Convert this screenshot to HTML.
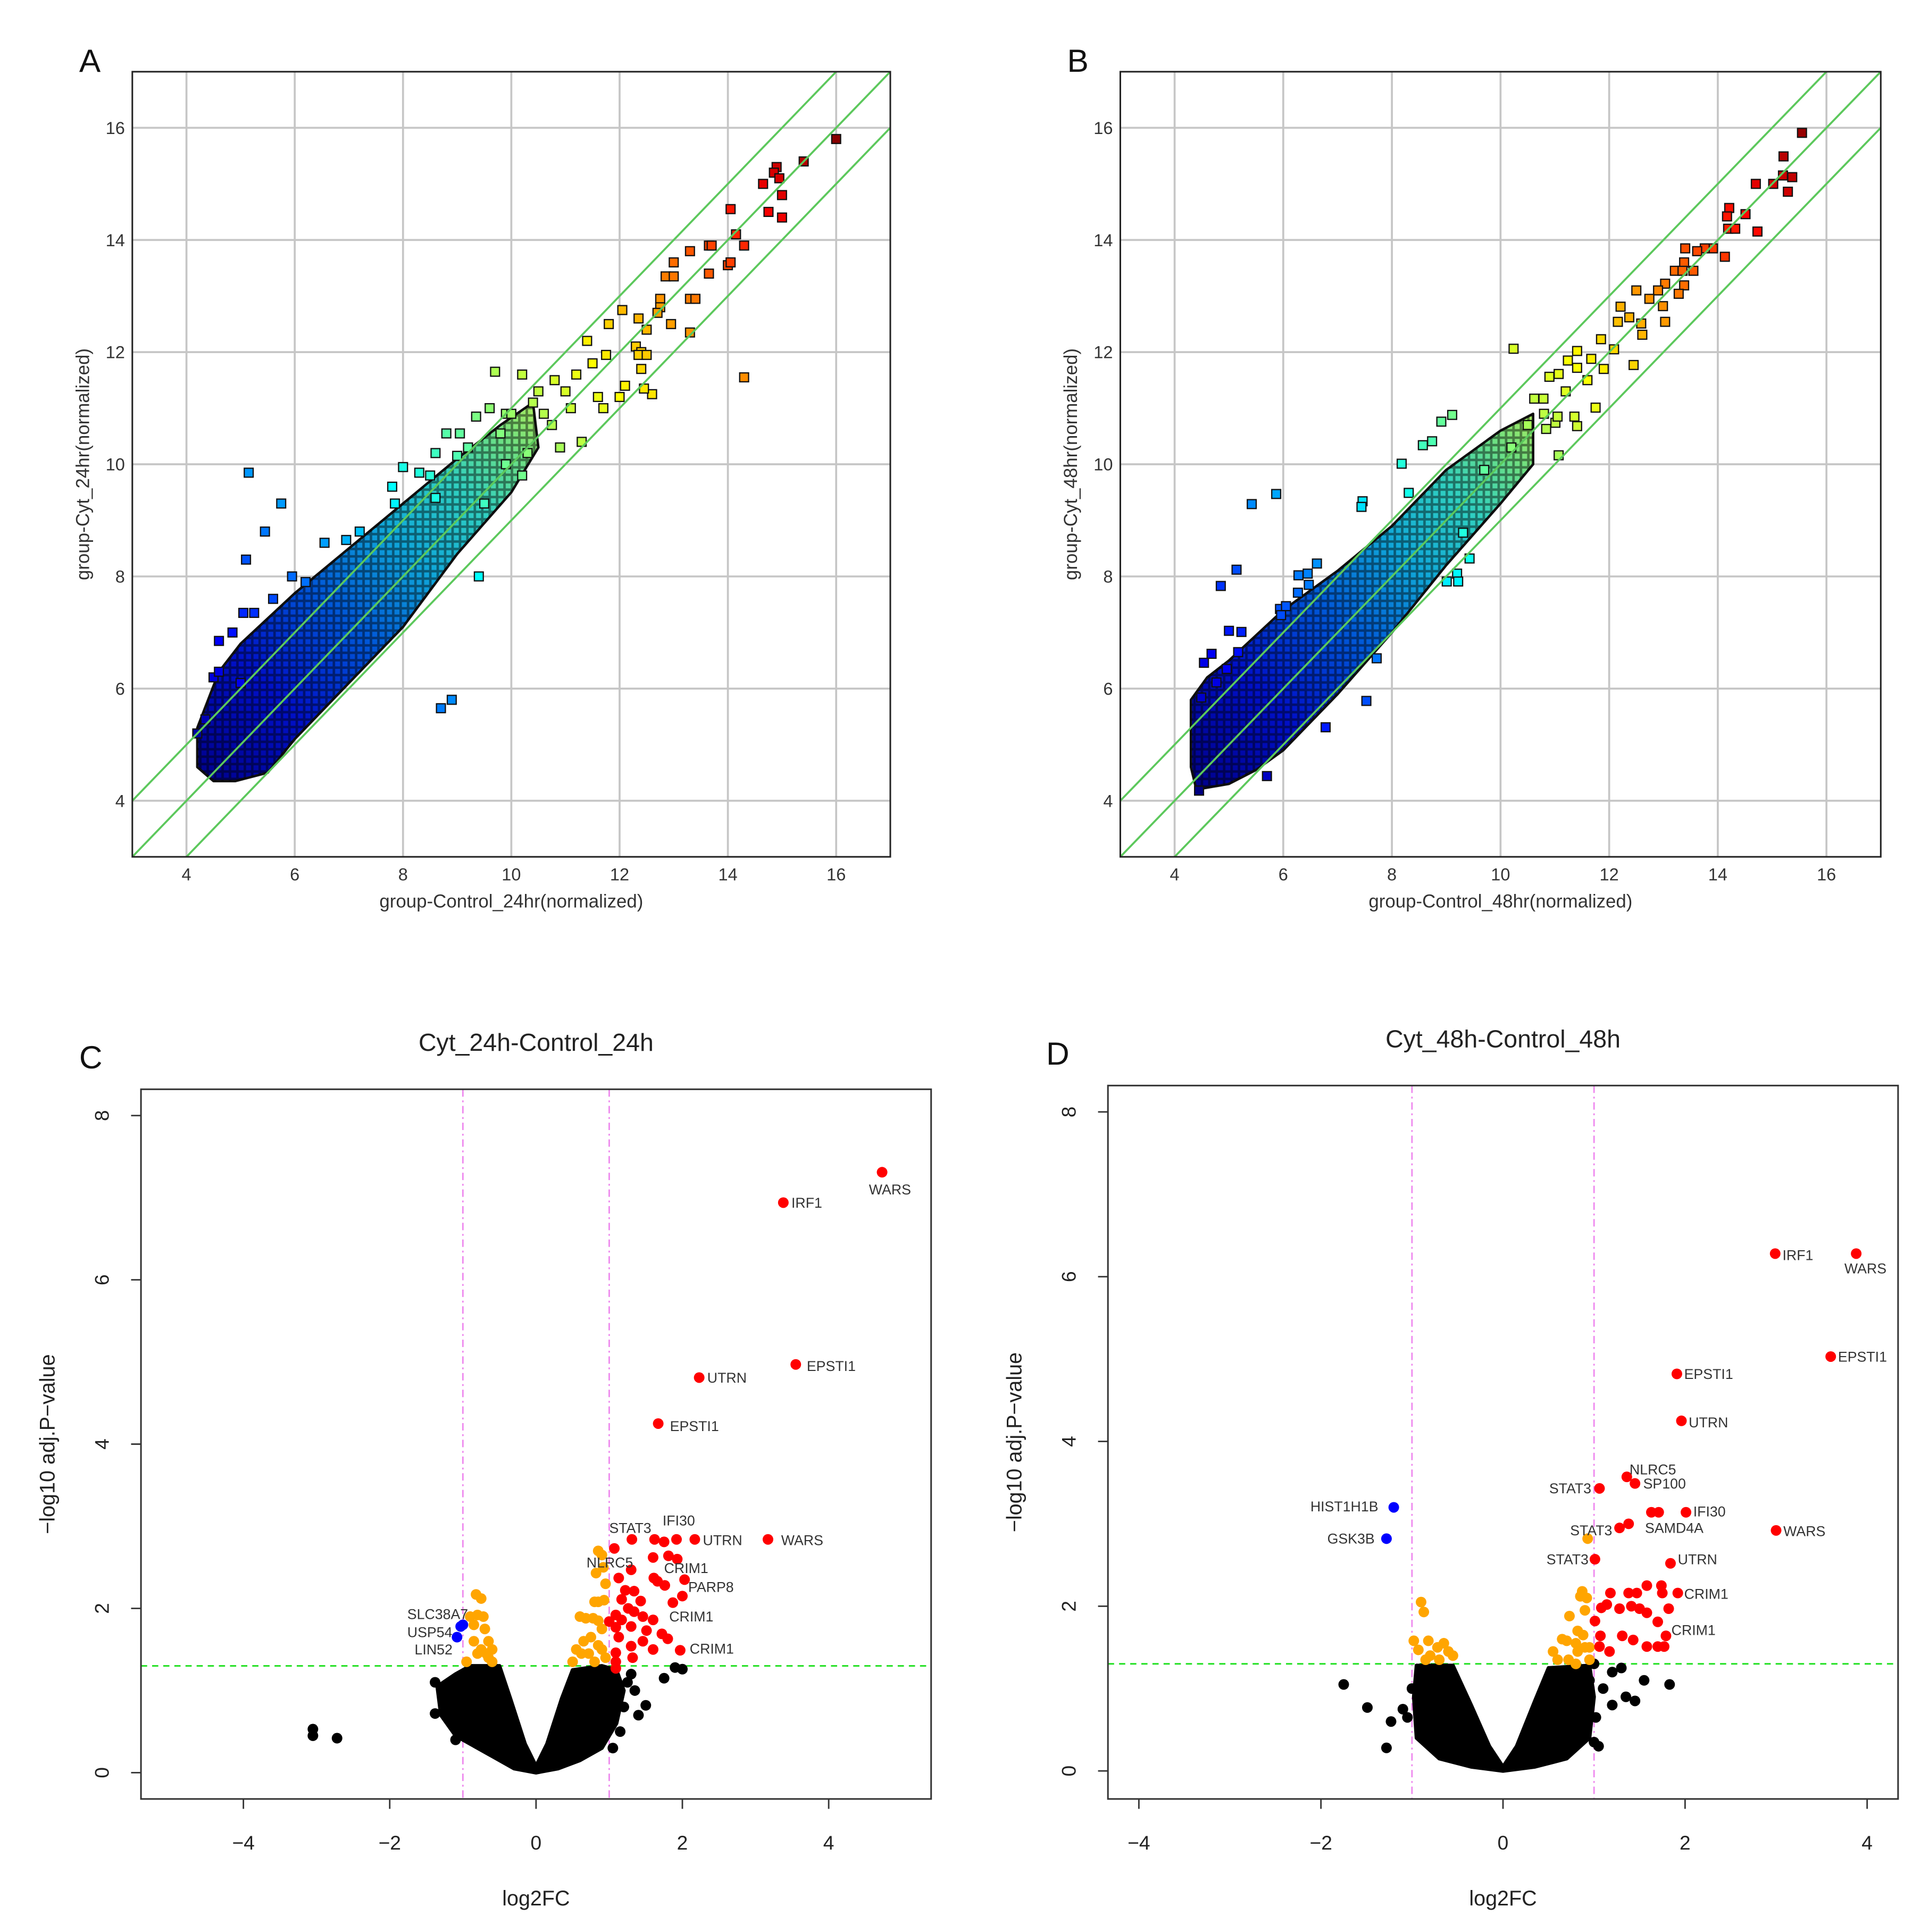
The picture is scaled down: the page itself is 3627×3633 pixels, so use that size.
<!DOCTYPE html>
<html><head><meta charset="utf-8">
<style>
html,body{margin:0;padding:0;background:#fff;}
svg{display:block;}
text{font-family:"Liberation Sans",sans-serif;}
</style></head>
<body>
<svg id="fig" xmlns="http://www.w3.org/2000/svg" width="3627" height="3633" viewBox="0 0 1560 1562.6">
<defs>
<pattern id="sqpat" patternUnits="userSpaceOnUse" width="6" height="6">
<rect x="0.5" y="0.5" width="5" height="5" fill="none" stroke="#000" stroke-opacity="0.45" stroke-width="1"/>
</pattern>
</defs>
<rect x="0" y="0" width="1560" height="1562.6" fill="#fff"/>
</svg>
<script>
// ===== Panel A data (control, cyt) =====
const aCloudUpper = [[4.2,4.6],[4.2,5.3],[4.6,6.3],[5,6.8],[6,7.7],[7,8.5],[8,9.3],[9,10.1],[9.8,10.7],[10.4,11.1]];
const aCloudLower = [[10.5,10.3],[10,9.5],[9,8.4],[8,7.1],[7,6.1],[6,5.1],[5.5,4.5],[4.9,4.35],[4.5,4.35]];
const aX = [16.0,15.4,14.9,14.85,14.95,14.65,15.0,14.75,15.0,14.05,14.15,14.3,14.0,14.05,13.65,13.7,13.65,13.3,13.0,12.85,13.0,13.3,13.4,12.75,12.75,12.7,12.95,13.3,12.05,12.35,11.8,12.5,12.3,12.4,12.35,12.5,12.4,12.1,12.0,12.6,12.45,11.4,11.75,14.3,9.7,10.2,9.6,9.35,9.8,8.8,9.05,8.6,9.0,8.0,8.3,8.5,7.8,7.85,5.15,5.75,5.45,5.1,6.55,6.95,5.95,8.7,8.9,9.4,11.0,10.5,11.3,10.75,11.7,10.2,4.6,5.05,5.25,4.85,4.5,4.6,5.0,4.2,4.35,10.8,11.2,10.4,11.5,9.9,9.2,10.6,11.1,10.9,11.6,9.5,10.0,7.2,6.2,5.6,8.6,9.9,10.3];
const aY = [15.8,15.4,15.3,15.2,15.1,15.0,14.8,14.5,14.4,14.55,14.1,13.9,13.55,13.6,13.9,13.9,13.4,13.8,13.6,13.35,13.35,12.95,12.95,12.95,12.8,12.7,12.5,12.35,12.75,12.6,12.5,12.4,12.1,12.0,11.95,11.95,11.7,11.4,11.2,11.25,11.35,12.2,11.95,11.55,11.65,11.6,11.0,10.85,10.55,10.55,10.55,10.2,10.15,9.95,9.85,9.8,9.6,9.3,9.85,9.3,8.8,8.3,8.6,8.65,8.0,5.65,5.8,8.0,11.3,11.3,10.4,10.7,11.0,9.8,6.85,7.35,7.35,7.0,6.2,6.3,6.1,5.2,5.45,11.5,11.6,11.1,11.8,10.9,10.3,10.9,11.0,10.3,11.2,9.3,10.9,8.8,7.9,7.6,9.4,10.0,10.2];
// ===== Panel B data =====
const bCloudUpper = [[4.3,4.6],[4.3,5.8],[4.6,6.2],[5,6.5],[6,7.4],[7,8.1],[8,8.9],[9,9.9],[10,10.6],[10.6,10.9]];
const bCloudLower = [[10.6,10.0],[10,9.3],[9,8.2],[8,7.0],[7,5.9],[6,4.9],[5.5,4.55],[5,4.3],[4.4,4.2]];
const bX = [15.55,15.21,15.02,15.2,15.37,15.29,14.7,14.21,14.17,14.51,14.73,14.19,14.32,14.13,13.91,13.76,13.62,13.4,13.38,13.55,13.21,13.35,13.38,13.28,13.03,12.9,12.74,12.5,12.99,12.21,13.03,12.16,12.37,12.59,12.61,12.45,11.85,12.09,11.67,11.41,11.41,11.24,11.07,10.9,10.79,10.62,11.75,11.36,11.01,10.84,11.41,11.05,11.07,10.24,9.11,8.91,8.74,8.57,8.18,8.31,7.46,7.44,5.87,5.42,4.85,5.14,6.28,6.45,6.62,6.47,6.27,5.94,6.05,5.96,4.54,4.68,4.96,5.23,5.0,5.17,4.77,4.49,6.78,7.53,5.7,4.45,9.2,9.43,9.01,9.22,9.31,7.72,10.5,10.8,11.2,11.6,11.9,9.7,10.2];
const bY = [15.91,15.49,15.0,15.15,15.12,14.86,15.0,14.57,14.42,14.46,14.15,14.2,14.2,13.7,13.85,13.85,13.8,13.85,13.6,13.45,13.45,13.45,13.19,13.04,13.22,13.1,12.95,13.1,12.82,12.81,12.54,12.54,12.62,12.51,12.31,11.77,12.23,12.05,11.88,12.02,11.72,11.85,11.61,11.56,11.17,11.17,11.01,10.85,10.74,10.63,10.68,10.85,10.16,12.06,10.88,10.76,10.41,10.34,10.01,9.49,9.34,9.24,9.47,9.29,7.83,8.12,8.02,8.05,8.23,7.85,7.71,7.42,7.47,7.31,6.46,6.62,6.35,7.01,7.03,6.65,6.11,5.84,5.31,5.78,4.44,4.18,8.05,8.32,7.91,7.91,8.78,6.54,10.7,10.9,11.3,11.5,11.7,9.9,10.3];
// ===== Panel C data (log2FC, -log10 adj.P) =====
const cVee = [[0,0],[-0.3,0.05],[-0.6,0.2],[-0.9,0.35],[-1.1,0.45],[-1.3,0.7],[-1.35,1.05],[-1.1,1.2],[-0.9,1.3],[-0.5,1.3],[-0.35,0.9],[-0.15,0.35],[0,0.08],[0.15,0.35],[0.35,0.9],[0.5,1.25],[0.9,1.3],[1.1,1.25],[1.2,1.0],[1.1,0.6],[0.9,0.3],[0.6,0.15],[0.3,0.05]];
const cBlackX = [-3.05,-3.05,-2.72,1.9,2.0,1.75,1.5,1.35,1.25,1.2,1.15,1.4,1.3,-1.38,-1.38,-1.2,-1.1,1.1,1.05];
const cBlackY = [0.53,0.45,0.42,1.28,1.26,1.15,0.82,1.0,1.1,0.8,0.5,0.7,1.2,0.72,1.1,0.8,0.4,0.9,0.3];
const cOrangeX = [-0.82,-0.75,-0.9,-0.8,-0.72,-0.65,-0.6,-0.68,-0.75,-0.8,-0.85,-0.95,-0.6,-0.7,-0.85,-0.65,0.85,0.9,0.92,0.82,0.95,0.93,0.85,0.8,0.78,0.6,0.68,0.85,0.9,0.75,0.65,0.55,0.62,0.72,0.8,0.5,0.9,0.95,0.85];
const cOrangeY = [2.17,2.12,1.9,1.92,1.9,1.6,1.5,1.45,1.5,1.45,1.6,1.35,1.35,1.75,1.8,1.4,2.7,2.65,2.5,2.43,2.3,2.1,2.08,2.08,1.88,1.9,1.88,1.85,1.75,1.65,1.6,1.5,1.45,1.45,1.35,1.35,1.5,1.4,1.55];
const cRedX = [4.73,3.38,3.55,2.23,1.67,3.17,2.17,1.92,1.75,1.62,1.31,1.07,1.6,1.81,1.93,1.3,1.13,1.61,1.66,1.76,2.03,1.22,1.34,1.17,1.43,1.87,2.0,1.26,1.34,1.09,1.0,1.17,1.46,1.6,1.09,1.3,1.51,1.72,1.8,1.46,1.13,1.3,1.6,1.97,1.09,1.32,1.09,1.09];
const cRedY = [7.31,6.94,4.97,4.81,4.25,2.84,2.84,2.84,2.81,2.84,2.84,2.73,2.62,2.64,2.6,2.47,2.37,2.37,2.33,2.28,2.35,2.22,2.21,2.11,2.09,2.07,2.15,2.0,1.96,1.92,1.84,1.86,1.9,1.86,1.77,1.78,1.73,1.69,1.63,1.6,1.65,1.54,1.5,1.49,1.46,1.4,1.35,1.27];
const cBlueX = [-1.03,-1.0,-1.08];
const cBlueY = [1.78,1.8,1.65];
const cLabels = ["WARS","IRF1","EPSTI1","UTRN","EPSTI1","WARS","UTRN","STAT3","IFI30","NLRC5","CRIM1","PARP8","CRIM1","CRIM1","SLC38A7","USP54","LIN52"];
const cLabX = [4.55,3.49,3.7,2.34,1.83,3.35,2.28,1.0,1.73,0.69,1.75,2.08,1.82,2.1,-1.76,-1.76,-1.66];
const cLabY = [7.1,6.94,4.95,4.81,4.22,2.83,2.83,2.98,3.07,2.56,2.49,2.26,1.9,1.51,1.93,1.71,1.5];
// ===== Panel D data =====
const dVee = [[0,0],[-0.35,0.05],[-0.7,0.15],[-0.95,0.4],[-0.98,0.9],[-0.95,1.28],[-0.55,1.28],[-0.35,0.8],[-0.15,0.3],[0,0.05],[0.15,0.3],[0.35,0.85],[0.5,1.25],[0.95,1.28],[1.0,0.9],[0.95,0.4],[0.7,0.15],[0.35,0.05]];
const dBlackX = [-1.75,-1.49,-1.28,-1.23,-1.1,-1.05,1.83,1.55,1.45,1.35,1.2,1.02,1.05,1.0,1.1,1.2,1.0,0.95,1.3,-1.0,-0.9];
const dBlackY = [1.05,0.77,0.28,0.6,0.75,0.65,1.05,1.1,0.85,0.9,0.8,0.65,0.3,0.35,1.0,1.2,1.3,1.1,1.25,1.0,0.5];
const dOrangeX = [0.93,-0.9,-0.87,-0.98,-0.93,-0.82,-0.8,-0.72,-0.65,-0.6,-0.55,-0.85,-0.7,0.87,0.92,0.85,0.9,0.73,0.65,0.7,0.82,0.88,0.8,0.9,0.95,0.82,0.55,0.6,0.72,0.8,0.95];
const dOrangeY = [2.82,2.05,1.93,1.58,1.47,1.58,1.4,1.5,1.55,1.45,1.4,1.35,1.35,2.18,2.1,2.12,1.95,1.88,1.6,1.58,1.7,1.65,1.55,1.5,1.5,1.45,1.45,1.35,1.35,1.3,1.35];
const dRedX = [2.99,3.88,3.6,1.91,1.96,1.36,1.45,1.06,1.63,1.71,2.01,1.38,1.28,3.0,1.01,1.84,1.58,1.74,1.18,1.38,1.47,1.75,1.92,1.08,1.14,1.28,1.41,1.5,1.58,1.82,1.01,1.7,1.07,1.31,1.43,1.79,1.06,1.17,1.58,1.7,1.77];
const dRedY = [6.28,6.28,5.03,4.82,4.25,3.57,3.49,3.43,3.14,3.14,3.14,3.0,2.95,2.92,2.57,2.52,2.25,2.25,2.16,2.16,2.16,2.16,2.16,1.98,2.02,1.97,2.0,1.97,1.92,1.97,1.82,1.81,1.64,1.64,1.59,1.64,1.51,1.45,1.51,1.51,1.51];
const dBlueX = [-1.2,-1.28];
const dBlueY = [3.2,2.82];
const dLabels = ["IRF1","WARS","EPSTI1","EPSTI1","UTRN","NLRC5","SP100","STAT3","IFI30","SAMD4A","STAT3","WARS","STAT3","UTRN","CRIM1","CRIM1","HIST1H1B","GSK3B"];
const dLabX = [3.07,3.75,3.68,1.99,2.04,1.39,1.54,0.97,2.09,1.56,1.2,3.08,0.94,1.92,1.99,1.85,-1.37,-1.41];
const dLabY = [6.26,6.1,5.03,4.82,4.23,3.66,3.49,3.43,3.15,2.95,2.92,2.91,2.57,2.57,2.15,1.71,3.21,2.82];
const dLabAnchor = ["start","start","start","start","start","start","start","end","start","start","end","start","end","start","start","start","end","end"];

// ===== drawing =====
const NS = "http://www.w3.org/2000/svg";
const svg = document.getElementById('fig');
function mk(tag, attrs, parent){
  const e = document.createElementNS(NS, tag);
  for (const k in attrs) e.setAttribute(k, attrs[k]);
  (parent||svg).appendChild(e);
  return e;
}
function scale(d0,d1,p0,p1){ return v => p0 + (v-d0)/(d1-d0)*(p1-p0); }
function jet(t){
  t=Math.max(0,Math.min(1,t));
  const r=Math.max(0,Math.min(1,1.5-Math.abs(4*t-3)));
  const g=Math.max(0,Math.min(1,1.5-Math.abs(4*t-2)));
  const b=Math.max(0,Math.min(1,1.5-Math.abs(4*t-1)));
  return `rgb(${Math.round(r*255)},${Math.round(g*255)},${Math.round(b*255)})`;
}

function scatterPanel(id, L,R,T,B, upper, lower, xs, ys, letter, xtitle, ytitle){
  const g = mk('g',{});
  
  
  const sx = scale(3,17,L,R), sy = scale(3,17,B,T);
  const clipId = id+'clip';
  const cp = mk('clipPath',{id:clipId},g);
  mk('rect',{x:L,y:T,width:R-L,height:B-T},cp);
  const ticks=[4,6,8,10,12,14,16];
  const grid = mk('g',{},g);
  
  
  ticks.forEach(v=>{
    mk('line',{x1:sx(v),x2:sx(v),y1:T,y2:B,stroke:'#c6c6c6','stroke-width':1.6},grid);
    mk('line',{x1:L,x2:R,y1:sy(v),y2:sy(v),stroke:'#c6c6c6','stroke-width':1.6},grid);
  });
  const gid = id+'grad';
  const lg = mk('linearGradient',{id:gid,gradientUnits:'userSpaceOnUse',x1:sx(4.3),y1:sy(4.3),x2:sx(11),y2:sy(11)},g);
  [[0,'#00008a'],[0.22,'#0010c8'],[0.42,'#0058d8'],[0.6,'#10a8d8'],[0.75,'#30d0c0'],[0.88,'#70e080'],[1,'#c0f050']].forEach(s=>mk('stop',{offset:s[0],'stop-color':s[1]},lg));
  const pts = upper.concat(lower).map(p=>sx(p[0])+','+sy(p[1])).join(' ');
  const cloud = mk('polygon',{points:pts,fill:'url(#'+gid+')',stroke:'#111','stroke-width':2,'stroke-linejoin':'round'},g);
  
  
  mk('polygon',{points:pts,fill:'url(#sqpat)',stroke:'none'},g);
  const pg = mk('g',{'clip-path':'url(#'+clipId+')'},g);
  xs.forEach((x,i)=>{
    const y=ys[i];
    const r = mk('rect',{x:sx(x)-3.6,y:sy(y)-3.6,width:7.2,height:7.2,fill:jet(((x+y)/2-4.3)/11.7),stroke:'#111','stroke-width':1},pg);
    
    
  });
  [0,1,-1].forEach(off=>{
    const ln = mk('line',{x1:sx(3),y1:sy(3+off),x2:sx(17),y2:sy(17+off),stroke:'#5cc85c','stroke-width':1.6,'clip-path':'url(#'+clipId+')'},g);
    
    
  });
  const fr = mk('rect',{x:L,y:T,width:R-L,height:B-T,fill:'none',stroke:'#222','stroke-width':1.3},g);
  
  
  ticks.forEach(v=>{
    const t1 = mk('text',{x:sx(v),y:B+19,'font-size':14,'text-anchor':'middle',fill:'#333'},g);
    t1.textContent=v;
    
    
    const t2 = mk('text',{x:L-6,y:sy(v)+5,'font-size':14,'text-anchor':'end',fill:'#333'},g);
    t2.textContent=v;
    
    
  });
  const xt = mk('text',{x:(L+R)/2,y:B+41,'font-size':15,'text-anchor':'middle',fill:'#333'},g);
  xt.textContent=xtitle;
  
  
  const yt = mk('text',{x:0,y:0,'font-size':15,'text-anchor':'middle',fill:'#333',transform:`translate(${L-35},${(T+B)/2}) rotate(-90)`},g);
  yt.textContent=ytitle;
  
  
  const lt = mk('text',{x:L-43,y:T,'font-size':26,fill:'#111'},g);
  lt.textContent=letter;
  
  
}

function volcanoPanel(id,L,R,T,B,xmin,xmax,ymin,ymax,xticks,vee,bx,by,ox,oy,rx,ry,blx,bly,labs,lx,ly,anch,letter,title){
  const g = mk('g',{});
  
  
  const sx = scale(xmin,xmax,L,R), sy=scale(ymin,ymax,B,T);
  const clipId=id+'clip';
  const cp = mk('clipPath',{id:clipId},g);
  mk('rect',{x:L,y:T,width:R-L,height:B-T},cp);
  const inner = mk('g',{'clip-path':'url(#'+clipId+')'},g);
  [-1,1].forEach(v=>{
    const l = mk('line',{x1:sx(v),x2:sx(v),y1:T,y2:B,stroke:'#ee88ee','stroke-width':1.2,'stroke-dasharray':'6 3 1.5 3'},inner);
    
    
  });
  const h = mk('line',{x1:L,x2:R,y1:sy(1.3),y2:sy(1.3),stroke:'#22e022','stroke-width':1.3,'stroke-dasharray':'5 4'},inner);
  
  
  const vp = mk('polygon',{points:vee.map(p=>sx(p[0])+','+sy(p[1])).join(' '),fill:'#000',stroke:'#000','stroke-width':3,'stroke-linejoin':'round'},inner);
  
  
  function dots(xs,ys,col,nm){
    xs.forEach((x,i)=>{
      const c = mk('circle',{cx:sx(x),cy:sy(ys[i]),r:4.3,fill:col},inner);
      
      
    });
  }
  dots(bx,by,'#000',id+'-nonsig-point');
  dots(ox,oy,'#ffa500',id+'-fc-point');
  dots(rx,ry,'#ff0000',id+'-up-point');
  dots(blx,bly,'#0000ff',id+'-down-point');
  labs.forEach((s,i)=>{
    const t = mk('text',{x:sx(lx[i]),y:sy(ly[i])+4,'font-size':11.5,'text-anchor':anch?anch[i]:'start',fill:'#333'},g);
    t.textContent=s;
    
    
  });
  const fr = mk('rect',{x:L,y:T,width:R-L,height:B-T,fill:'none',stroke:'#333','stroke-width':1.3},g);
  
  
  xticks.forEach(v=>{
    mk('line',{x1:sx(v),x2:sx(v),y1:B,y2:B+8,stroke:'#333','stroke-width':1.2},g);
    const t = mk('text',{x:sx(v),y:B+41,'font-size':16,'text-anchor':'middle',fill:'#222'},g);
    t.textContent = v<0 ? '\u2212'+(-v) : v;
    
    
  });
  [0,2,4,6,8].forEach(v=>{
    mk('line',{x1:L-8,x2:L,y1:sy(v),y2:sy(v),stroke:'#333','stroke-width':1.2},g);
    const t = mk('text',{x:0,y:0,'font-size':16,'text-anchor':'middle',fill:'#222',transform:`translate(${L-26},${sy(v)}) rotate(-90)`},g);
    t.textContent=v;
    
    
  });
  const xt = mk('text',{x:(L+R)/2,y:B+86,'font-size':17,'text-anchor':'middle',fill:'#222'},g);
  xt.textContent='log2FC';
  
  
  const yt = mk('text',{x:0,y:0,'font-size':17,'text-anchor':'middle',fill:'#222',transform:`translate(${L-70},${(T+B)/2}) rotate(-90)`},g);
  yt.textContent='\u2212log10 adj.P\u2212value';
  
  
  const tt = mk('text',{x:(L+R)/2,y:T-31,'font-size':20,'text-anchor':'middle',fill:'#222'},g);
  tt.textContent=title;
  
  
  const lt = mk('text',{x:L-50,y:T-17,'font-size':26,fill:'#111'},g);
  lt.textContent=letter;
  
  
}

scatterPanel('a',107,720,58,693,aCloudUpper,aCloudLower,aX,aY,'A','group-Control_24hr(normalized)','group-Cyt_24hr(normalized)');
scatterPanel('b',906,1521,58,693,bCloudUpper,bCloudLower,bX,bY,'B','group-Control_48hr(normalized)','group-Cyt_48hr(normalized)');
volcanoPanel('c',114,753,881,1455,-5.4,5.4,-0.32,8.32,[-4,-2,0,2,4],cVee,cBlackX,cBlackY,cOrangeX,cOrangeY,cRedX,cRedY,cBlueX,cBlueY,cLabels,cLabX,cLabY,null,'C','Cyt_24h-Control_24h');
volcanoPanel('d',896,1535,878,1455,-4.34,4.34,-0.34,8.32,[-4,-2,0,2,4],dVee,dBlackX,dBlackY,dOrangeX,dOrangeY,dRedX,dRedY,dBlueX,dBlueY,dLabels,dLabX,dLabY,dLabAnchor,'D','Cyt_48h-Control_48h');
</script>
</body></html>
